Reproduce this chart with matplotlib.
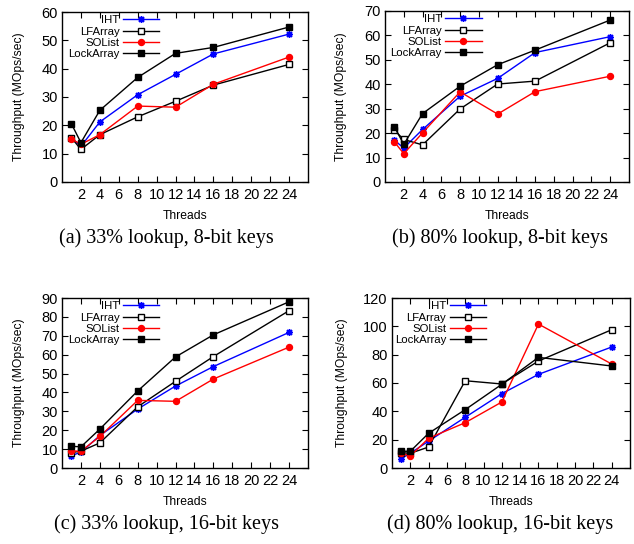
import matplotlib
matplotlib.use("Agg")
import matplotlib.pyplot as plt

plt.rcParams['font.family'] = ['Liberation Sans', 'DejaVu Sans']

threads = [1, 2, 4, 8, 12, 16, 24]
series_names = ["IHT", "LFArray", "SOList", "LockArray"]

# (a) 33% lookup, 8-bit keys
a_iht = [15.6, 12.6, 21.2, 30.8, 38.0, 45.2, 52.2]
a_lfarray = [15.6, 11.5, 16.7, 23.0, 28.5, 34.2, 41.5]
a_solist = [15.2, 13.3, 16.7, 26.8, 26.4, 34.5, 44.1]
a_lockarray = [20.5, 13.9, 25.3, 36.9, 45.4, 47.5, 54.7]

# (b) 80% lookup, 8-bit keys
b_iht = [17.1, 13.9, 21.5, 35.1, 42.4, 53.0, 59.5]
b_lfarray = [21.2, 17.4, 15.2, 29.9, 40.1, 41.3, 57.0]
b_solist = [16.4, 11.6, 20.1, 36.9, 27.8, 37.0, 43.3]
b_lockarray = [22.6, 15.4, 28.0, 39.2, 48.0, 54.0, 66.3]

# (c) 33% lookup, 16-bit keys
c_iht = [6.6, 8.3, 17.2, 31.2, 43.4, 53.7, 71.8]
c_lfarray = [8.2, 8.9, 13.3, 32.4, 45.9, 59.0, 83.3]
c_solist = [9.0, 8.9, 16.7, 35.8, 35.3, 47.1, 64.0]
c_lockarray = [11.5, 11.2, 20.6, 40.8, 58.8, 70.5, 88.0]

# (d) 80% lookup, 16-bit keys
d_iht = [6.6, 10.4, 19.0, 35.8, 52.5, 66.1, 85.4]
d_lfarray = [10.8, 10.4, 14.8, 61.6, 59.3, 75.5, 97.6]
d_solist = [10.4, 8.5, 21.0, 32.0, 46.6, 101.6, 73.4]
d_lockarray = [11.8, 11.8, 24.5, 41.2, 59.1, 78.1, 72.0]

captions = ["(a) 33% lookup, 8-bit keys", "(b) 80% lookup, 8-bit keys",
            "(c) 33% lookup, 16-bit keys", "(d) 80% lookup, 16-bit keys"]
ymax = [60, 70, 90, 120]
ystep = [10, 10, 10, 20]
xticks = list(range(2, 25, 2))

panels = [
    (a_iht, a_lfarray, a_solist, a_lockarray),
    (b_iht, b_lfarray, b_solist, b_lockarray),
    (c_iht, c_lfarray, c_solist, c_lockarray),
    (d_iht, d_lfarray, d_solist, d_lockarray),
]

W, H = 634, 544
# axes boxes in pixels: left, top, right, bottom
boxes = [(62, 12, 308, 182), (385, 11, 629, 182),
         (62, 298, 308, 468), (392, 298, 630, 468)]
ylabel_x = [25, 347, 25, 348]
caption_x = [166, 500, 166, 500]
caption_y = [238, 238, 524, 524]

styles = [
    dict(color="#0000ff", marker=(8, 2, 0), markersize=5, markeredgewidth=1),
    dict(color="black", marker="s", markersize=4.2, markerfacecolor="white",
         markeredgewidth=1),
    dict(color="#ff0000", marker="o", markersize=4.3),
    dict(color="black", marker="s", markersize=4.6),
]

fig = plt.figure(figsize=(W / 100, H / 100), dpi=100)

for i, data in enumerate(panels):
    l, t, r, b = boxes[i]
    ax = fig.add_axes([l / W, 1 - b / H, (r - l) / W, (b - t) / H])
    for name, ys, st in zip(series_names, data, styles):
        ax.plot(threads, ys, label=name, linewidth=1, **st)
    ax.set_xlim(0, 26)
    ax.set_ylim(0, ymax[i])
    ax.set_xticks(xticks)
    ax.set_yticks(range(0, ymax[i] + 1, ystep[i]))
    ax.tick_params(direction="in", top=True, right=True, length=4,
                   labelsize=10.5, width=0.8)
    ax.tick_params(axis="x", pad=4)
    ax.tick_params(axis="y", pad=3)
    for s in ax.spines.values():
        s.set_linewidth(1)
    ax.set_xlabel("Threads", fontsize=8.7)
    ax.xaxis.set_label_coords(0.5, -28 / (b - t))
    ax.set_ylabel("Throughput (MOps/sec)", fontsize=8.7)
    ax.yaxis.set_label_coords((ylabel_x[i] - l) / (r - l), 0.5)
    ax.legend(loc="upper right", bbox_to_anchor=(0.41, 1.0), frameon=False,
              markerfirst=False, fontsize=8.2, labelspacing=0.1,
              handlelength=3.2, handletextpad=0.3, borderaxespad=0,
              borderpad=0.3, numpoints=1)
    fig.text(caption_x[i] / W, 1 - caption_y[i] / H, captions[i],
             ha="center", va="center", fontsize=14.5,
             family=["Liberation Serif", "DejaVu Serif"])

fig.savefig("out.png", dpi=100)
